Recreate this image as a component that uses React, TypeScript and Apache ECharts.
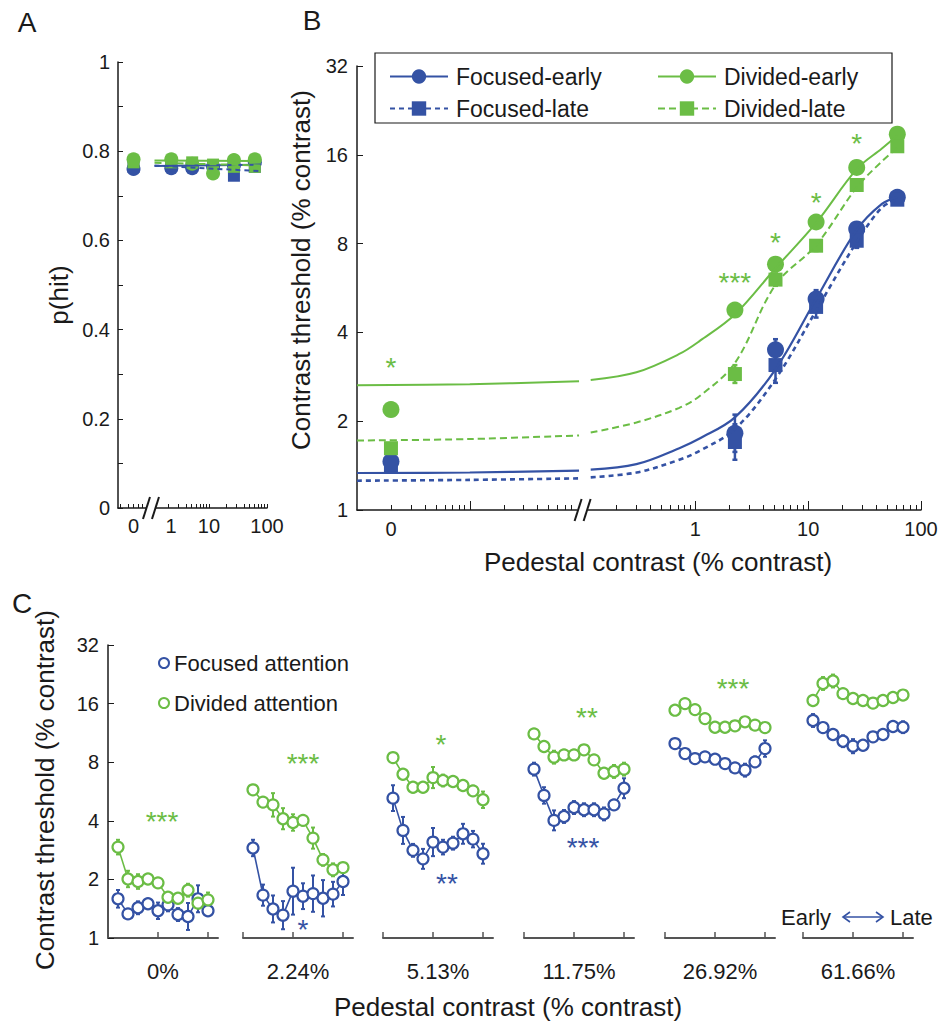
import React, { useEffect, useRef } from "react";
import * as echarts from "echarts";

const FONT = '"Liberation Sans", Arial, Helvetica, sans-serif';
const BLUE = "#3452A4";
const GREEN = "#6BBD45";
const INK = "#1a1a1a";
const GREY = "#555555";

// ---------------- Panels A & B ----------------
const pedestals = [0, 2.24, 5.13, 11.75, 26.92, 61.66];
const ZERO_POS_A = 0.5; // where pedestal 0 is drawn on A's log axis
const ZERO_POS_B = 0.002; // where pedestal 0 is drawn on B's log axis
const BREAK_A = 1;
const BREAK_B = 0.1;

// Panel A : p(hit)
const hitFocusedEarly = [0.76, 0.762, 0.762, 0.765, 0.768, 0.775];
const hitFocusedLate = [0.765, 0.768, 0.768, 0.765, 0.745, 0.765];
const hitDividedEarly = [0.782, 0.782, 0.772, 0.75, 0.78, 0.782];
const hitDividedLate = [0.775, 0.775, 0.775, 0.77, 0.765, 0.765];
const fitPedA = [1.15, 80];
const fitHitFocusedEarly = [0.767, 0.77];
const fitHitFocusedLate = [0.768, 0.755];
const fitHitDividedEarly = [0.779, 0.778];
const fitHitDividedLate = [0.774, 0.768];

// Panel B : contrast thresholds (% contrast)
const thrFocusedEarly = [1.46, 1.82, 3.49, 5.19, 8.97, 11.48];
const thrFocusedLate = [1.41, 1.7, 3.1, 4.88, 8.18, 11.27];
const thrDividedEarly = [2.19, 4.76, 6.81, 9.47, 14.5, 18.8];
const thrDividedLate = [1.62, 2.89, 6.04, 7.87, 12.64, 17.1];
// error half-widths, in octaves
const errFocusedEarly = [0.03, 0.21, 0.12, 0.1, 0.06, 0.04];
const errFocusedLate = [0.03, 0.2, 0.2, 0.12, 0.08, 0.04];
const errDividedEarly = [0.02, 0.03, 0.04, 0.05, 0.04, 0.03];
const errDividedLate = [0.02, 0.1, 0.07, 0.06, 0.04, 0.03];

// Panel B : fitted curves
const fitPedLow = [0.001, 0.01, 0.093];
const fitPedHigh = [0.118, 0.3, 0.72, 1.1, 2.24, 5.13, 11.75, 26.92, 45, 61.66];
const fitFocusedEarlyLow = [1.335, 1.34, 1.36];
const fitFocusedEarlyHigh = [1.37, 1.43, 1.62, 1.75, 2.06, 3.0, 5.19, 8.9, 10.9, 11.5];
const fitFocusedLateLow = [1.257, 1.265, 1.28];
const fitFocusedLateHigh = [1.29, 1.34, 1.48, 1.59, 1.88, 2.78, 4.74, 8.1, 10.6, 11.3];
const fitDividedEarlyLow = [2.65, 2.67, 2.73];
const fitDividedEarlyHigh = [2.76, 2.93, 3.38, 3.75, 4.6, 6.6, 9.4, 14.3, 16.8, 18.6];
const fitDividedLateLow = [1.72, 1.74, 1.79];
const fitDividedLateHigh = [1.83, 1.98, 2.22, 2.44, 3.15, 5.8, 7.9, 12.4, 15.2, 16.9];

// Panel B significance stars (Divided early vs late)
const starPedB = [0, 2.24, 5.13, 11.75, 26.92];
const starThrB = [3.2, 6.2, 8.5, 11.6, 18.4];
const starTextB = ["*", "***", "*", "*", "*"];

// ---------------- Panel C ----------------
const blockIdx = [1, 2, 3, 4, 5, 6, 7, 8, 9, 10];
const pedestalLabels = ["0%", "2.24%", "5.13%", "11.75%", "26.92%", "61.66%"];

const focused0 = [1.59, 1.33, 1.43, 1.5, 1.38, 1.48, 1.32, 1.29, 1.59, 1.38];
const divided0 = [2.93, 2.01, 1.95, 2.01, 1.92, 1.62, 1.6, 1.76, 1.51, 1.57];
const focused224 = [2.9, 1.66, 1.41, 1.31, 1.74, 1.64, 1.69, 1.6, 1.68, 1.95];
const divided224 = [5.77, 4.99, 4.83, 4.1, 3.92, 4.02, 3.26, 2.52, 2.24, 2.3];
const focused513 = [5.23, 3.57, 2.82, 2.55, 3.11, 2.93, 3.07, 3.43, 3.22, 2.71];
const divided513 = [8.45, 6.94, 5.95, 5.95, 6.67, 6.44, 6.37, 6.07, 5.7, 5.13];
const focused1175 = [7.37, 5.4, 4.02, 4.21, 4.68, 4.56, 4.56, 4.34, 4.83, 5.88];
const divided1175 = [11.18, 9.63, 8.49, 8.72, 8.72, 9.26, 8.22, 7.02, 7.17, 7.37];
const focused2692 = [9.97, 8.86, 8.35, 8.52, 8.29, 7.87, 7.48, 7.28, 8.03, 9.4];
const divided2692 = [14.8, 16.0, 14.9, 13.4, 12.1, 12.1, 12.3, 12.9, 12.4, 12.05];
const focused6166 = [13.1, 12.05, 11.1, 10.25, 9.67, 9.78, 10.8, 11.1, 12.2, 12.1];
const divided6166 = [16.6, 20.3, 20.9, 18.0, 17.0, 16.6, 16.1, 16.6, 17.2, 17.7];

// error half-widths, in octaves
const focusedErr0 = [0.15, 0.045, 0.11, 0.06, 0.14, 0.11, 0.11, 0.23, 0.23, 0.085];
const dividedErr0 = [0.125, 0.14, 0.125, 0.07, 0.06, 0.045, 0.08, 0.11, 0.085, 0.125];
const focusedErr224 = [0.14, 0.18, 0.23, 0.24, 0.4, 0.22, 0.31, 0.31, 0.21, 0.23];
const dividedErr224 = [0.085, 0.085, 0.2, 0.18, 0.14, 0.085, 0.18, 0.1, 0.11, 0.07];
const focusedErr513 = [0.22, 0.23, 0.11, 0.17, 0.24, 0.125, 0.11, 0.17, 0.14, 0.17];
const dividedErr513 = [0.06, 0.07, 0.085, 0.07, 0.18, 0.1, 0.07, 0.085, 0.085, 0.14];
const focusedErr1175 = [0.11, 0.14, 0.17, 0.11, 0.11, 0.11, 0.11, 0.11, 0.085, 0.17];
const dividedErr1175 = [0.06, 0.085, 0.11, 0.085, 0.085, 0.07, 0.07, 0.07, 0.11, 0.11];
const focusedErr2692 = [0.07, 0.08, 0.08, 0.08, 0.07, 0.07, 0.08, 0.11, 0.09, 0.14];
const dividedErr2692 = [0.05, 0.06, 0.05, 0.05, 0.05, 0.05, 0.05, 0.05, 0.05, 0.05];
const focusedErr6166 = [0.11, 0.08, 0.08, 0.1, 0.12, 0.08, 0.08, 0.07, 0.08, 0.1];
const dividedErr6166 = [0.07, 0.11, 0.11, 0.07, 0.06, 0.06, 0.06, 0.06, 0.07, 0.08];

// Panel C significance stars
const starSegC = [0, 1, 1, 2, 2, 3, 3, 4];
const starBlockC = [5.4, 6.0, 6.0, 5.8, 6.4, 6.3, 5.9, 6.8];
const starThrC = [4.27, 8.5, 1.19, 10.7, 2.05, 14.7, 3.14, 20.6];
const starTextC = ["***", "***", "*", "*", "**", "**", "***", "***"];
const starDividedC = [true, true, false, true, false, true, false, true];

const TICK_FS = 20;
const TEXT_FS = 22;
const LEGEND_FS = 23;
const TITLE_FS = 26;
const STAR_FS = 28;

function buildOption() {
  const lg = Math.log10;
  const l2 = Math.log2;
  const xA = (p: number) => lg(p === 0 ? ZERO_POS_A : p);
  const xB = (p: number) => lg(p === 0 ? ZERO_POS_B : p);

  const focusedC = [focused0, focused224, focused513, focused1175, focused2692, focused6166];
  const dividedC = [divided0, divided224, divided513, divided1175, divided2692, divided6166];
  const focusedErrC = [focusedErr0, focusedErr224, focusedErr513, focusedErr1175, focusedErr2692, focusedErr6166];
  const dividedErrC = [dividedErr0, dividedErr224, dividedErr513, dividedErr1175, dividedErr2692, dividedErr6166];

  const tickText = { fontFamily: FONT, fontSize: TICK_FS, color: INK };

  // log tick positions
  const logTicks = (fromDec: number, toDec: number) => {
    const out: number[] = [];
    for (let d = fromDec; d < toDec; d++) for (let k = 1; k <= 9; k++) out.push(d + lg(k));
    out.push(toDec);
    return out;
  };
  const minorA = logTicks(-1, 2).filter((v) => v > -0.56 && Math.abs(v - lg(BREAK_A)) > 0.12);
  const minorB = logTicks(-3, 2).filter((v) => v > -2.99 && Math.abs(v - lg(BREAK_B)) > 0.07);
  const majorB = [-2, 0, 1, 2];

  const breakGlyph = (params: any, api: any) => {
    const p = api.coord([api.value(0), api.value(1)]);
    const x = p[0];
    const y = p[1];
    return {
      type: "group",
      children: [
        { type: "rect", shape: { x: x - 5, y: y - 8, width: 10, height: 10 }, style: { fill: "#fff" } },
        { type: "line", shape: { x1: x - 8, y1: y + 11, x2: x - 1, y2: y - 11 }, style: { stroke: INK, lineWidth: 2 } },
        { type: "line", shape: { x1: x + 1, y1: y + 11, x2: x + 8, y2: y - 11 }, style: { stroke: INK, lineWidth: 2 } },
      ],
    };
  };

  const errBar = (color: string, cap: number, lw: number) => (params: any, api: any) => {
    const x = api.value(0);
    const y = api.value(1);
    const e = api.value(2);
    const t = api.coord([x, y + e]);
    const b = api.coord([x, y - e]);
    return {
      type: "group",
      children: [
        { type: "line", shape: { x1: t[0], y1: t[1], x2: b[0], y2: b[1] }, style: { stroke: color, lineWidth: lw } },
        { type: "line", shape: { x1: t[0] - cap, y1: t[1], x2: t[0] + cap, y2: t[1] }, style: { stroke: color, lineWidth: lw } },
        { type: "line", shape: { x1: b[0] - cap, y1: b[1], x2: b[0] + cap, y2: b[1] }, style: { stroke: color, lineWidth: lw } },
      ],
    };
  };

  const starText = (texts: string[], colors: string[]) => (params: any, api: any) => {
    const p = api.coord([api.value(0), api.value(1)]);
    return {
      type: "text",
      x: p[0],
      y: p[1] + 0.23 * STAR_FS,
      style: {
        text: texts[params.dataIndex],
        fill: colors[params.dataIndex],
        fontSize: STAR_FS,
        fontFamily: FONT,
        align: "center",
        verticalAlign: "middle",
      },
    };
  };

  // ---------- grids ----------
  const cLefts = [108, 243, 383, 524, 665, 803];
  const grid: any[] = [
    { left: 118, top: 62, width: 149, height: 446 },
    { left: 357, top: 66, width: 564, height: 444 },
    ...cLefts.map((l) => ({ left: l, top: 645, width: 110, height: 293 })),
  ];

  const xAxis: any[] = [
    {
      gridIndex: 0, type: "value", min: lg(0.27), max: 2, position: "bottom",
      axisLine: { onZero: false, lineStyle: { color: INK, width: 1.5 } },
      axisTick: { inside: true, length: 4, customValues: minorA, lineStyle: { color: INK } },
      splitLine: { show: false },
      axisLabel: {
        ...tickText, margin: 8,
        customValues: [lg(ZERO_POS_A), 0, 1, 2],
        formatter: (v: number) => (v < -0.1 ? "0" : v < 0.5 ? "{one|1}" : String(Math.round(Math.pow(10, v)))),
        rich: { one: { fontFamily: FONT, fontSize: TICK_FS, color: INK, padding: [0, 0, 0, 40] } },
      },
    },
    {
      gridIndex: 1, type: "value", min: -3, max: 2, position: "bottom",
      axisLine: { onZero: false, lineStyle: { color: INK, width: 1.5 } },
      axisTick: { inside: true, length: 5, customValues: minorB, lineStyle: { color: INK } },
      splitLine: { show: false },
      axisLabel: { show: false },
    },
    {
      gridIndex: 1, type: "value", min: -3, max: 2, position: "bottom",
      axisLine: { show: false, onZero: false },
      axisTick: { inside: true, length: 9, customValues: majorB, lineStyle: { color: INK } },
      splitLine: { show: false },
      axisLabel: {
        ...tickText, margin: 9,
        customValues: [lg(ZERO_POS_B), 0, 1, 2],
        formatter: (v: number) => (v < -1 ? "0" : String(Math.round(Math.pow(10, v)))),
      },
    },
    ...cLefts.map((_, i) => ({
      gridIndex: 2 + i, type: "value", min: 0, max: 11, position: "bottom",
      axisLine: { onZero: false, lineStyle: { color: GREY, width: 2 } },
      axisTick: { inside: true, length: 6, customValues: [0, 5, 10], lineStyle: { color: GREY, width: 1.5 } },
      splitLine: { show: false },
      axisLabel: { show: false },
      name: pedestalLabels[i],
      nameLocation: "middle",
      nameGap: 22,
      nameTextStyle: { fontFamily: FONT, fontSize: TEXT_FS, color: INK },
    })),
  ];

  const log2Axis = (gridIndex: number, show: boolean) => ({
    gridIndex, type: "value", min: 0, max: 5, interval: 1, show, position: "left",
    axisLine: { show: true, onZero: false, lineStyle: { color: INK, width: 1.5 } },
    axisTick: { show: true, inside: true, length: 6, lineStyle: { color: INK } },
    splitLine: { show: false },
    axisLabel: { ...tickText, margin: 9, formatter: (v: number) => String(Math.round(Math.pow(2, v))) },
  });

  const yAxis: any[] = [
    {
      gridIndex: 0, type: "value", min: 0, max: 1, interval: 0.1, position: "left",
      axisLine: { show: true, onZero: false, lineStyle: { color: INK, width: 1.5 } },
      axisTick: { show: true, inside: true, length: 5, lineStyle: { color: INK } },
      splitLine: { show: false },
      axisLabel: {
        ...tickText, margin: 8,
        formatter: (v: number) => {
          const t = Math.round(v * 10);
          if (t % 2) return "";
          return t === 0 ? "0" : t === 10 ? "1" : (t / 10).toFixed(1);
        },
      },
    },
    log2Axis(1, true),
    ...cLefts.map((_, i) => log2Axis(2 + i, i === 0)),
  ];

  const series: any[] = [];

  // ---------- Panel A ----------
  const condA = [
    { name: "Focused-early", color: BLUE, hit: hitFocusedEarly, fit: fitHitFocusedEarly, sym: "circle", size: 14, dash: "solid" },
    { name: "Focused-late", color: BLUE, hit: hitFocusedLate, fit: fitHitFocusedLate, sym: "rect", size: 12, dash: [5, 4] },
    { name: "Divided-early", color: GREEN, hit: hitDividedEarly, fit: fitHitDividedEarly, sym: "circle", size: 14, dash: "solid" },
    { name: "Divided-late", color: GREEN, hit: hitDividedLate, fit: fitHitDividedLate, sym: "rect", size: 12, dash: [7, 4] },
  ];
  condA.forEach((c) => {
    series.push({
      type: "line", name: c.name + " A fit", xAxisIndex: 0, yAxisIndex: 0, silent: true,
      data: fitPedA.map((p, i) => [lg(p), c.fit[i]]),
      showSymbol: false, lineStyle: { color: c.color, width: 2, type: c.dash },
    });
  });
  condA.forEach((c) => {
    series.push({
      type: "scatter", name: c.name + " A", xAxisIndex: 0, yAxisIndex: 0, silent: true,
      data: pedestals.map((p, i) => [xA(p), c.hit[i]]),
      symbol: c.sym, symbolSize: c.size, itemStyle: { color: c.color, opacity: 1 },
    });
  });
  series.push({
    type: "custom", xAxisIndex: 0, yAxisIndex: 0, silent: true, z: 10,
    data: [[lg(BREAK_A), 0]], renderItem: breakGlyph,
  });

  // ---------- Panel B ----------
  const condB = [
    { name: "Focused-early", color: BLUE, thr: thrFocusedEarly, err: errFocusedEarly, low: fitFocusedEarlyLow, high: fitFocusedEarlyHigh, sym: "circle", size: 17, dash: "solid", w: 2.2 },
    { name: "Focused-late", color: BLUE, thr: thrFocusedLate, err: errFocusedLate, low: fitFocusedLateLow, high: fitFocusedLateHigh, sym: "rect", size: 14, dash: [5, 4], w: 2.6 },
    { name: "Divided-early", color: GREEN, thr: thrDividedEarly, err: errDividedEarly, low: fitDividedEarlyLow, high: fitDividedEarlyHigh, sym: "circle", size: 17, dash: "solid", w: 2 },
    { name: "Divided-late", color: GREEN, thr: thrDividedLate, err: errDividedLate, low: fitDividedLateLow, high: fitDividedLateHigh, sym: "rect", size: 14, dash: [7, 4], w: 2 },
  ];
  condB.forEach((c) => {
    [fitPedLow, fitPedHigh].forEach((peds, k) => {
      const vals = k === 0 ? c.low : c.high;
      series.push({
        type: "line", name: c.name, xAxisIndex: 1, yAxisIndex: 1, silent: true,
        data: peds.map((p, i) => [lg(p), l2(vals[i])]),
        smooth: 0.35, showSymbol: false, symbol: c.sym,
        itemStyle: { color: c.color },
        lineStyle: { color: c.color, width: c.w, type: c.dash },
      });
    });
  });
  condB.forEach((c) => {
    series.push({
      type: "custom", xAxisIndex: 1, yAxisIndex: 1, silent: true,
      dimensions: ["x", "y", "e"], encode: { x: 0, y: 1 },
      data: pedestals.map((p, i) => [xB(p), l2(c.thr[i]), c.err[i]]),
      renderItem: errBar(c.color, 2.5, 2.5),
    });
  });
  condB.forEach((c) => {
    series.push({
      type: "scatter", name: c.name + " data", xAxisIndex: 1, yAxisIndex: 1, silent: true,
      data: pedestals.map((p, i) => [xB(p), l2(c.thr[i])]),
      symbol: c.sym, symbolSize: c.size, itemStyle: { color: c.color, opacity: 1 },
    });
  });
  series.push({
    type: "custom", xAxisIndex: 1, yAxisIndex: 1, silent: true, z: 5,
    data: starPedB.map((p, i) => [xB(p), l2(starThrB[i])]),
    renderItem: starText(starTextB, starTextB.map(() => GREEN)),
  });
  series.push({
    type: "custom", xAxisIndex: 1, yAxisIndex: 1, silent: true, z: 10,
    data: [[lg(BREAK_B), 0]], renderItem: breakGlyph,
  });

  // ---------- Panel C ----------
  cLefts.forEach((_, s) => {
    const xi = 3 + s;
    const yi = 2 + s;
    const groups = [
      { name: "Focused attention", color: BLUE, vals: focusedC[s], errs: focusedErrC[s] },
      { name: "Divided attention", color: GREEN, vals: dividedC[s], errs: dividedErrC[s] },
    ];
    groups.forEach((g) => {
      series.push({
        type: "custom", xAxisIndex: xi, yAxisIndex: yi, silent: true,
        dimensions: ["x", "y", "e"], encode: { x: 0, y: 1 },
        data: blockIdx.map((b, j) => [b, l2(g.vals[j]), g.errs[j]]),
        renderItem: errBar(g.color, 2, 2),
      });
    });
    groups.forEach((g) => {
      series.push({
        type: "line", name: g.name, xAxisIndex: xi, yAxisIndex: yi, silent: true,
        data: blockIdx.map((b, j) => [b, l2(g.vals[j])]),
        symbol: "circle", symbolSize: 11, showSymbol: true,
        itemStyle: { color: "#fff", borderColor: g.color, borderWidth: 2.2 },
        lineStyle: { color: g.color, width: 1.6 },
      });
    });
    const idx = starSegC.map((seg, k) => (seg === s ? k : -1)).filter((k) => k >= 0);
    if (idx.length) {
      series.push({
        type: "custom", xAxisIndex: xi, yAxisIndex: yi, silent: true, z: 5,
        data: idx.map((k) => [starBlockC[k], l2(starThrC[k])]),
        renderItem: starText(idx.map((k) => starTextC[k]), idx.map((k) => (starDividedC[k] ? GREEN : BLUE))),
      });
    }
  });

  const legendText = { fontFamily: FONT, fontSize: LEGEND_FS, color: INK, padding: [0, 0, 0, 3] };
  const legend: any[] = [
    {
      left: 384, top: 60, orient: "vertical", itemWidth: 58, itemHeight: 18, itemGap: 9,
      selectedMode: false, textStyle: legendText, data: ["Focused-early", "Focused-late"],
    },
    {
      left: 652, top: 60, orient: "vertical", itemWidth: 58, itemHeight: 18, itemGap: 9,
      selectedMode: false, textStyle: legendText, data: ["Divided-early", "Divided-late"],
    },
    {
      left: 153, top: 647, orient: "vertical", itemWidth: 10, itemHeight: 10, itemGap: 18,
      selectedMode: false, textStyle: { fontFamily: FONT, fontSize: TEXT_FS, color: INK },
      data: [
        { name: "Focused attention", icon: "circle", itemStyle: { color: "#fff", borderColor: BLUE, borderWidth: 2 } },
        { name: "Divided attention", icon: "circle", itemStyle: { color: "#fff", borderColor: GREEN, borderWidth: 2 } },
      ],
    },
  ];

  const txt = (text: string, x: number, y: number, fs: number, extra: any = {}) => ({
    type: "text", x, y, silent: true, ...extra,
    style: { text, fill: INK, fontSize: fs, fontFamily: FONT, align: "center", verticalAlign: "middle", ...(extra.style || {}) },
  });

  const graphic: any[] = [
    txt("A", 27, 22, 28),
    txt("B", 312, 20, 28),
    txt("C", 22, 603, 28),
    txt("p(hit)", 59, 295, TITLE_FS, { rotation: Math.PI / 2 }),
    txt("Contrast threshold (% contrast)", 301, 270, TITLE_FS, { rotation: Math.PI / 2 }),
    txt("Pedestal contrast (% contrast)", 658, 562, TITLE_FS),
    txt("Contrast threshold (% contrast)", 45, 790, TITLE_FS, { rotation: Math.PI / 2 }),
    txt("Pedestal contrast (% contrast)", 508, 1007, TITLE_FS),
    { type: "rect", silent: true, shape: { x: 375, y: 53, width: 517, height: 70 }, style: { fill: "none", stroke: INK, lineWidth: 1.2 } },
    { type: "text", silent: true, x: 781, y: 917, style: { text: "Early", fill: INK, fontSize: TEXT_FS, fontFamily: FONT, align: "left", verticalAlign: "middle" } },
    { type: "text", silent: true, x: 890, y: 917, style: { text: "Late", fill: INK, fontSize: TEXT_FS, fontFamily: FONT, align: "left", verticalAlign: "middle" } },
    { type: "line", silent: true, shape: { x1: 843, y1: 917, x2: 883, y2: 917 }, style: { stroke: BLUE, lineWidth: 1.6 } },
    { type: "polyline", silent: true, shape: { points: [[850, 912], [843, 917], [850, 922]] }, style: { stroke: BLUE, lineWidth: 1.6, fill: "none" } },
    { type: "polyline", silent: true, shape: { points: [[876, 912], [883, 917], [876, 922]] }, style: { stroke: BLUE, lineWidth: 1.6, fill: "none" } },
  ];

  return {
    animation: false,
    backgroundColor: "#fff",
    textStyle: { fontFamily: FONT },
    grid,
    xAxis,
    yAxis,
    legend,
    graphic,
    series,
  };
}

export default function App() {
  const ref = useRef<HTMLDivElement>(null);
  useEffect(() => {
    document.body.style.margin = "0";
    const chart = echarts.init(ref.current!, null, { renderer: "svg" });
    chart.setOption(buildOption() as any);
    return () => chart.dispose();
  }, []);
  return <div ref={ref} style={{ width: 949, height: 1025 }} />;
}
